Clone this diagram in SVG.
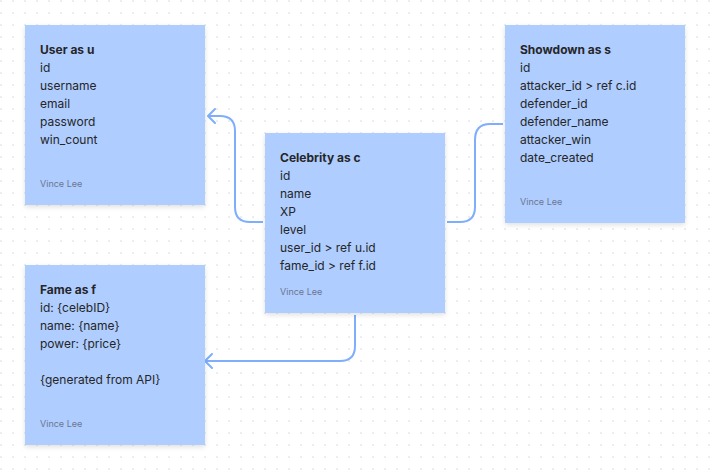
<svg xmlns="http://www.w3.org/2000/svg" width="711" height="471" viewBox="0 0 711 471">
<defs>
<pattern id="dots" x="0" y="0" width="12" height="12" patternUnits="userSpaceOnUse">
<rect x="0.3" y="0.3" width="1.5" height="1.5" fill="#dedede"/>
</pattern>
<filter id="sh" x="-10%" y="-10%" width="120%" height="125%">
<feDropShadow dx="0" dy="2" stdDeviation="2.5" flood-color="#000" flood-opacity="0.12"/>
</filter>
<marker id="arr" markerWidth="14" markerHeight="18" refX="10" refY="9" orient="auto" markerUnits="userSpaceOnUse">
<path d="M3,2 L10,9 L3,16" fill="none" stroke="#7eaefc" stroke-width="2" stroke-linecap="round" stroke-linejoin="round"/>
</marker>
</defs>
<style>
.box{fill:#afcdff;filter:url(#sh)}
.t{font-family:Inter,"Liberation Sans",sans-serif;font-size:12px;fill:#262626}
.b{font-weight:bold}
.a{font-family:Inter,"Liberation Sans",sans-serif;font-size:9px;fill:#6b7690}
.c{fill:none;stroke:#7eaefc;stroke-width:2}
</style>
<rect width="711" height="471" fill="#ffffff"/>
<rect width="711" height="471" fill="url(#dots)"/>
<g id="connectors">
<path class="c" d="M263,222 L250,222 Q235,222 235,207 L235,131 Q235,116 220,116 L208,116" marker-end="url(#arr)"/>
<path class="c" d="M447,222 L460,222 Q475,222 475,207 L475,140 Q475,124 490,124 L503,124"/>
<path class="c" d="M355,315 L355,346 Q355,361 340,361 L205,361" marker-end="url(#arr)"/>
</g>
<g id="user">
<rect class="box" x="25" y="25" width="180" height="180"/>
<text class="t b" x="40" y="54">User as u</text>
<text class="t" x="40" y="72">id</text>
<text class="t" x="40" y="90">username</text>
<text class="t" x="40" y="108">email</text>
<text class="t" x="40" y="126">password</text>
<text class="t" x="40" y="144">win_count</text>
<text class="a" x="40" y="187">Vince Lee</text>
</g>
<g id="celebrity">
<rect class="box" x="265" y="133" width="180" height="180"/>
<text class="t b" x="280" y="162">Celebrity as c</text>
<text class="t" x="280" y="180">id</text>
<text class="t" x="280" y="198">name</text>
<text class="t" x="280" y="216">XP</text>
<text class="t" x="280" y="234">level</text>
<text class="t" x="280" y="252">user_id &gt; ref u.id</text>
<text class="t" x="280" y="270">fame_id &gt; ref f.id</text>
<text class="a" x="280" y="295">Vince Lee</text>
</g>
<g id="showdown">
<rect class="box" x="505" y="25" width="180" height="198"/>
<text class="t b" x="520" y="54">Showdown as s</text>
<text class="t" x="520" y="72">id</text>
<text class="t" x="520" y="90">attacker_id &gt; ref c.id</text>
<text class="t" x="520" y="108">defender_id</text>
<text class="t" x="520" y="126">defender_name</text>
<text class="t" x="520" y="144">attacker_win</text>
<text class="t" x="520" y="162">date_created</text>
<text class="a" x="520" y="205">Vince Lee</text>
</g>
<g id="fame">
<rect class="box" x="25" y="265" width="180" height="180"/>
<text class="t b" x="40" y="294">Fame as f</text>
<text class="t" x="40" y="312">id: {celebID}</text>
<text class="t" x="40" y="330">name: {name}</text>
<text class="t" x="40" y="348">power: {price}</text>
<text class="t" x="40" y="384">{generated from API}</text>
<text class="a" x="40" y="427">Vince Lee</text>
</g>
</svg>
